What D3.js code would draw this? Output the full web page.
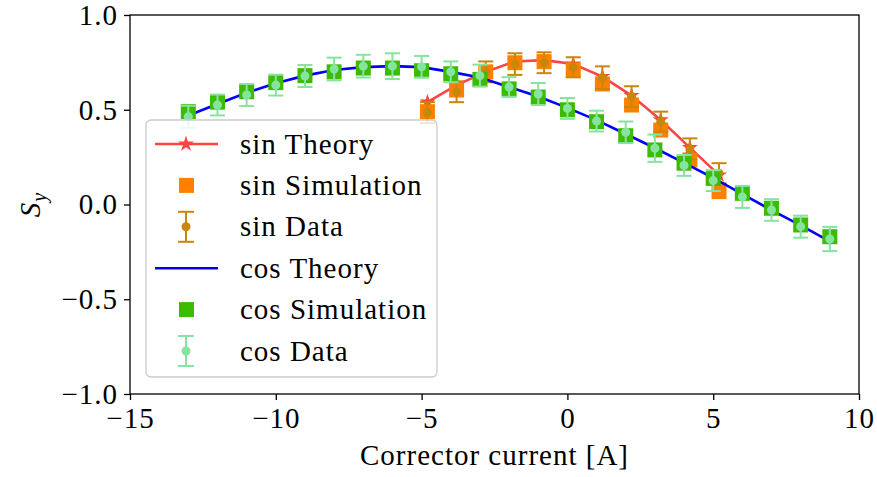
<!DOCTYPE html>
<html>
<head>
<meta charset="utf-8">
<script src="https://cdn.jsdelivr.net/npm/d3@7"></script>
<style>
  body { margin: 0; background: #fff; }
  text { font-family: "Liberation Serif", serif; fill: #000; font-size: 29px; letter-spacing: 1px; }
  .axis path, .axis line { stroke: #000; stroke-width: 1.3; }
</style>
</head>
<body>
<svg id="chart" width="877" height="477"></svg>
<script>
// cos scan
const cosX = [-13, -12, -11, -10, -9, -8, -7, -6, -5, -4, -3, -2, -1, 0, 1, 2, 3, 4, 5, 6, 7, 8, 9];
const cosTheory = [0.47, 0.53, 0.59, 0.64, 0.68, 0.71, 0.725, 0.73, 0.725, 0.70, 0.67, 0.62, 0.57, 0.51, 0.445, 0.372, 0.298, 0.22, 0.14, 0.055, -0.03, -0.11, -0.195];
const cosSim = [0.49, 0.54, 0.595, 0.643, 0.68, 0.70, 0.72, 0.72, 0.706, 0.69, 0.66, 0.61, 0.567, 0.50, 0.437, 0.363, 0.288, 0.218, 0.138, 0.059, -0.02, -0.108, -0.17];
const cosData = [0.463, 0.525, 0.578, 0.63, 0.678, 0.715, 0.73, 0.73, 0.727, 0.70, 0.68, 0.62, 0.583, 0.507, 0.44, 0.381, 0.297, 0.206, 0.126, 0.04, -0.029, -0.117, -0.182];
const cosErr = [0.058, 0.055, 0.058, 0.055, 0.058, 0.06, 0.06, 0.068, 0.057, 0.055, 0.058, 0.052, 0.058, 0.055, 0.055, 0.057, 0.072, 0.055, 0.055, 0.058, 0.057, 0.058, 0.064];

// sin scan
const sinX = [-4.8, -3.8, -2.8, -1.8, -0.8, 0.2, 1.2, 2.2, 3.2, 4.2, 5.2];
const sinTheory = [0.54, 0.63, 0.70, 0.755, 0.762, 0.741, 0.675, 0.575, 0.446, 0.30, 0.155];
const sinSim = [0.49, 0.604, 0.70, 0.748, 0.754, 0.71, 0.636, 0.525, 0.393, 0.235, 0.068];
const sinData = [0.485, 0.595, 0.70, 0.741, 0.748, 0.724, 0.669, 0.569, 0.437, 0.293, 0.165];
const sinErr = [0.055, 0.055, 0.055, 0.057, 0.055, 0.053, 0.06, 0.055, 0.053, 0.056, 0.053];

const xTicks = [-15, -10, -5, 0, 5, 10];
const yTicks = [-1.0, -0.5, 0.0, 0.5, 1.0];

const legendLabels = ["sin Theory", "sin Simulation", "sin Data", "cos Theory", "cos Simulation", "cos Data"];

const colors = {
  sinTheory: "#ff4444", sinSim: "#ff8000", sinData: "#c8860a",
  cosTheory: "#0000ff", cosSim: "#3dbb00", cosData: "#86e3a0"
};

const mLeft = 130, mRight = 859, mTop = 15, mBottom = 394;
const svg = d3.select("#chart");

let xScale = d3.scaleLinear().domain([-15, 10]).range([mLeft, mRight]);
let yScale = d3.scaleLinear().domain([-1, 1]).range([mBottom, mTop]);

const plot = svg.append("g");

function theoryLine(xs, ys, color) {
  plot.append("path")
    .datum(xs.map((d, i) => [d, ys[i]]))
    .attr("fill", "none")
    .attr("stroke", color)
    .attr("stroke-width", 2.6)
    .attr("d", d3.line().x(d => xScale(d[0])).y(d => yScale(d[1])));
}

function squares(xs, ys, color) {
  plot.selectAll(null)
    .data(xs)
    .enter()
    .append("rect")
    .attr("x", (d, i) => xScale(d) - 7.5)
    .attr("y", (d, i) => yScale(ys[i]) - 7.5)
    .attr("width", 15).attr("height", 15)
    .attr("fill", color);
}

function errorbars(xs, ys, errs, color) {
  let g = plot.append("g").attr("stroke", color).attr("stroke-width", 2);
  xs.forEach((d, i) => {
    let cx = xScale(d), lo = yScale(ys[i] - errs[i]), hi = yScale(ys[i] + errs[i]);
    g.append("line").attr("x1", cx).attr("x2", cx).attr("y1", lo).attr("y2", hi);
    g.append("line").attr("x1", cx - 7.5).attr("x2", cx + 7.5).attr("y1", lo).attr("y2", lo);
    g.append("line").attr("x1", cx - 7.5).attr("x2", cx + 7.5).attr("y1", hi).attr("y2", hi);
  });
  plot.selectAll(null)
    .data(xs)
    .enter()
    .append("circle")
    .attr("cx", d => xScale(d))
    .attr("cy", (d, i) => yScale(ys[i]))
    .attr("r", 4.5)
    .attr("fill", color);
}

// sin
theoryLine(sinX, sinTheory, colors.sinTheory);
plot.selectAll(null)
  .data(sinX)
  .enter()
  .append("path")
  .attr("transform", (d, i) => `translate(${xScale(d)},${yScale(sinTheory[i])})`)
  .attr("d", d3.symbol(d3.symbolStar, 80))
  .attr("fill", colors.sinTheory);
squares(sinX, sinSim, colors.sinSim);
errorbars(sinX, sinData, sinErr, colors.sinData);

// cos
theoryLine(cosX, cosTheory, colors.cosTheory);
squares(cosX, cosSim, colors.cosSim);
errorbars(cosX, cosData, cosErr, colors.cosData);

// axes
let x_axis = d3.axisBottom(xScale).tickValues(xTicks).tickSize(6).tickPadding(7)
  .tickFormat(d => d < 0 ? "\u2212" + Math.abs(d) : d);
let y_axis = d3.axisLeft(yScale).tickValues(yTicks).tickSize(6).tickPadding(6)
  .tickFormat(d => (d < 0 ? "\u2212" : "") + Math.abs(d).toFixed(1));

svg.append("g").attr("class", "axis")
  .attr("transform", `translate(0,${mBottom})`)
  .call(x_axis)
  .call(g => g.select(".domain").remove());
svg.append("g").attr("class", "axis")
  .attr("transform", `translate(${mLeft},0)`)
  .call(y_axis)
  .call(g => g.select(".domain").remove());
svg.selectAll(".axis").attr("font-family", null).attr("font-size", null);

svg.append("rect")
  .attr("x", mLeft).attr("y", mTop)
  .attr("width", mRight - mLeft).attr("height", mBottom - mTop)
  .attr("fill", "none").attr("stroke", "#000").attr("stroke-width", 1.3);

// legend
let legend = svg.append("g").attr("class", "legend");
legend.append("rect")
  .attr("x", 146).attr("y", 120)
  .attr("width", 291).attr("height", 257)
  .attr("rx", 5)
  .attr("fill", "#fff").attr("fill-opacity", 0.8)
  .attr("stroke", "#cccccc").attr("stroke-width", 1.3);

const rowY = d3.scaleLinear().domain([0, 5]).range([144, 351]);
legendLabels.forEach((lab, i) => {
  let y = rowY(i), g = legend.append("g");
  if (i === 0 || i === 3) {
    g.append("line").attr("x1", 155).attr("x2", 218).attr("y1", y).attr("y2", y)
      .attr("stroke", i === 0 ? colors.sinTheory : colors.cosTheory).attr("stroke-width", 2.6);
  }
  if (i === 0) {
    g.append("path").attr("transform", `translate(186,${y})`)
      .attr("d", d3.symbol(d3.symbolStar, 80)).attr("fill", colors.sinTheory);
  }
  if (i === 1 || i === 4) {
    g.append("rect").attr("x", 179).attr("y", y - 7.5).attr("width", 15).attr("height", 15)
      .attr("fill", i === 1 ? colors.sinSim : colors.cosSim);
  }
  if (i === 2 || i === 5) {
    let c = i === 2 ? colors.sinData : colors.cosData;
    g.append("line").attr("x1", 186).attr("x2", 186).attr("y1", y - 15).attr("y2", y + 15).attr("stroke", c).attr("stroke-width", 2);
    g.append("line").attr("x1", 178).attr("x2", 194).attr("y1", y - 15).attr("y2", y - 15).attr("stroke", c).attr("stroke-width", 2);
    g.append("line").attr("x1", 178).attr("x2", 194).attr("y1", y + 15).attr("y2", y + 15).attr("stroke", c).attr("stroke-width", 2);
    g.append("circle").attr("cx", 186).attr("cy", y).attr("r", 4.5).attr("fill", c);
  }
  g.append("text").attr("x", 240).attr("y", y).attr("dy", "0.33em").text(lab);
});

// labels
svg.append("text")
  .attr("x", (mLeft + mRight) / 2).attr("y", 465)
  .attr("text-anchor", "middle")
  .text("Corrector current [A]");

let yl = svg.append("text")
  .attr("transform", `translate(40,${(mTop + mBottom) / 2}) rotate(-90)`)
  .attr("text-anchor", "middle");
yl.append("tspan").attr("font-style", "italic").text("S");
yl.append("tspan").attr("font-style", "italic").style("font-size", "20px").attr("dy", 6).text("y");
</script>
</body>
</html>
